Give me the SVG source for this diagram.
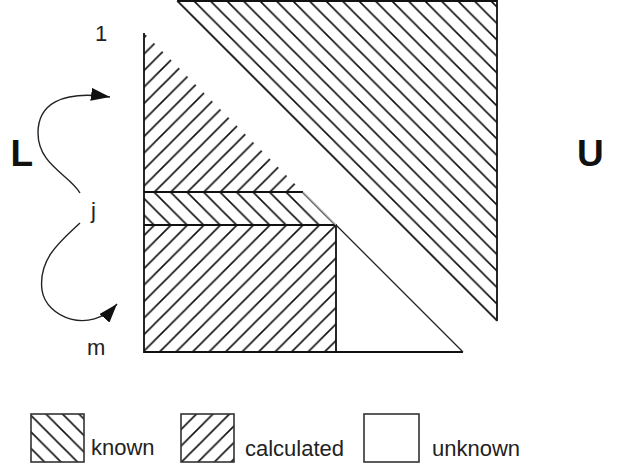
<svg xmlns="http://www.w3.org/2000/svg" width="626" height="469" viewBox="0 0 626 469">
<style>
.edge{stroke:#111;stroke-width:1.8;fill:none}
.thin{stroke:#222;stroke-width:1.3;fill:none}
.faint{stroke:#aaa;stroke-width:1.2;fill:none}
.hatch{stroke:#111;stroke-width:1.6;fill:none}
.lbl{font-family:"Liberation Sans",Arial,sans-serif;font-size:22px;fill:#222}
.big{font-family:"Liberation Sans",Arial,sans-serif;font-size:37px;font-weight:bold;fill:#111}
.arrow{stroke:#222;stroke-width:1.4;fill:none;marker-end:url(#head)}
.box{stroke:#333;stroke-width:1.6}
</style>
<defs>
<pattern id="known" patternUnits="userSpaceOnUse" x="5.75" y="10.75" width="16.5" height="16.5">
<path class="hatch" d="M-4,-4 L20.5,20.5 M12.5,-4 L20.5,4 M-4,12.5 L4,20.5"/>
</pattern>
<pattern id="calc" patternUnits="userSpaceOnUse" x="5.75" y="10.75" width="16.5" height="16.5">
<path class="hatch" d="M-4,20.5 L20.5,-4 M-4,4 L4,-4 M12.5,20.5 L20.5,12.5"/>
</pattern>
<marker id="head" viewBox="0 0 19 13" refX="19" refY="6.5" markerWidth="19" markerHeight="13" markerUnits="userSpaceOnUse" orient="auto">
<path d="M0,0 L19,6.5 L0,13 z" fill="#111"/>
</marker>
</defs>
<rect width="626" height="469" fill="#fff"/>

<g id="U">
<polygon points="177,1 497,1 497,321" fill="url(#known)"/>
<path class="edge" d="M177,1 H497 V321"/>
<line class="thin" x1="177" y1="1" x2="497" y2="321"/>
</g>

<g id="L">
<polygon points="144,33 144,192 303,192" fill="url(#calc)"/>
<polygon points="144,192 303,192 336,225 144,225" fill="url(#known)"/>
<rect x="144" y="225" width="192" height="127" fill="url(#calc)"/>
<path class="edge" d="M144,33 V352 H463"/>
<path class="edge" d="M144,192 H303 M144,225 H336 V352"/>
<line class="faint" x1="303" y1="192" x2="336" y2="225"/>
<line class="thin" x1="336" y1="225" x2="463" y2="352"/>
</g>

<g id="labels">
<text class="big" x="10.5" y="166">L</text>
<text class="big" x="577" y="166">U</text>
<text class="lbl" x="95" y="41">1</text>
<text class="lbl" x="91" y="218">j</text>
<text class="lbl" x="87" y="355">m</text>
</g>

<g id="connectors">
<path class="arrow" d="M80,193 C70,175 38,165 38,133 C38,105 60,90 110,97"/>
<path class="arrow" d="M80,223 C62,240 38,258 42,290 C46,318 90,335 117,304"/>
</g>

<g id="legend-known">
<rect class="box" x="31" y="414" width="53" height="48" fill="url(#known)"/>
<text class="lbl" x="91" y="455">known</text>
</g>
<g id="legend-calculated">
<rect class="box" x="181" y="414" width="53" height="48" fill="url(#calc)"/>
<text class="lbl" x="245" y="456">calculated</text>
</g>
<g id="legend-unknown">
<rect class="box" x="364" y="414" width="55" height="48" fill="#fff"/>
<text class="lbl" x="432" y="456">unknown</text>
</g>
</svg>
